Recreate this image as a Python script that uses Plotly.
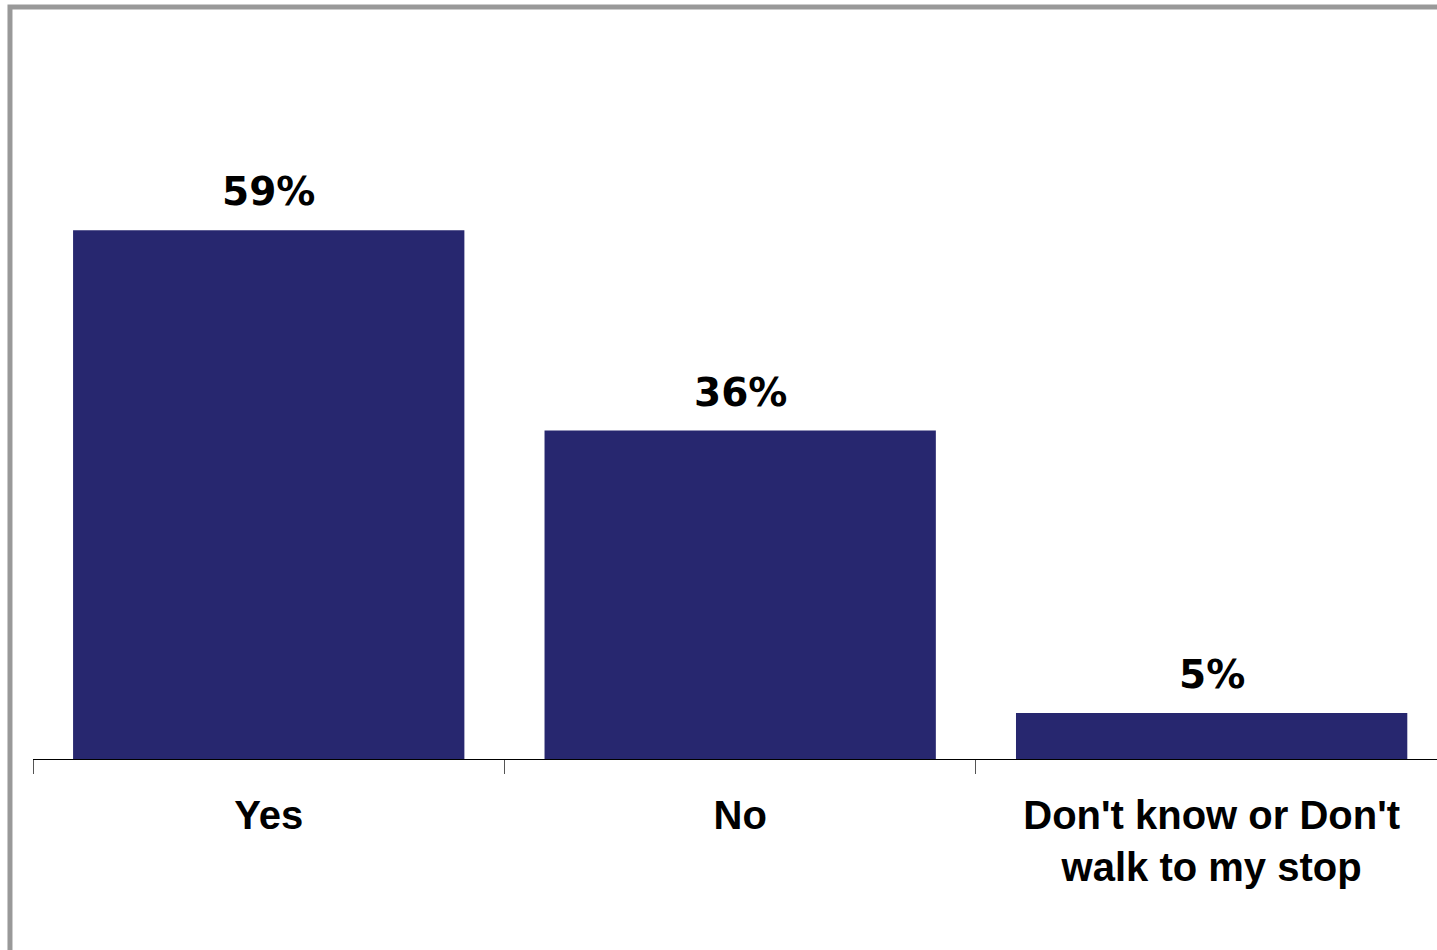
import plotly.graph_objects as go

categories = ["Yes", "No", "Don't know or Don't<br>walk to my stop"]
values = [58.6, 36.4, 5.1]
labels = ["59%", "36%", "5%"]

BAR_COLOR = "#27276F"

fig = go.Figure()
fig.add_trace(go.Bar(
    x=categories,
    y=values,
    width=0.83,
    marker=dict(color=BAR_COLOR, line=dict(width=0)),
    hoverinfo="skip",
))

for c, v, t in zip(categories, values, labels):
    fig.add_annotation(
        x=c, y=v, text=t, showarrow=False,
        xanchor="center", yanchor="bottom", yshift=14,
        font=dict(family="DejaVu Sans", size=39, color="black", weight="bold"),
    )

# outer frame (gray, left and top)
fig.add_shape(type="rect", xref="paper", yref="paper",
              x0=-0.0164, x1=1.05, y0=-0.4, y1=1.0459,
              line=dict(color="#999999", width=5), fillcolor="rgba(0,0,0,0)", layer="below")

fig.update_layout(
    width=1437, height=950,
    margin=dict(l=33, r=0, t=40, b=191),
    paper_bgcolor="white", plot_bgcolor="white",
    showlegend=False,
    xaxis=dict(
        range=[-0.5, 2.478],
        showline=True, linecolor="black", linewidth=1,
        ticks="outside", ticklen=14, tickcolor="#555555", tickwidth=1,
        tickson="boundaries", ticklabelstandoff=21,
        tickfont=dict(family="Liberation Sans, Arial", size=40, color="black", weight="bold"),
        showgrid=False, zeroline=False, fixedrange=True,
    ),
    yaxis=dict(
        range=[0, 79.7], visible=False, showgrid=False, zeroline=False, fixedrange=True,
    ),
)

fig.write_html(
    "out.html",
    config={"displayModeBar": False},
    post_script="document.body.style.margin='0';document.body.style.overflow='hidden';",
)
